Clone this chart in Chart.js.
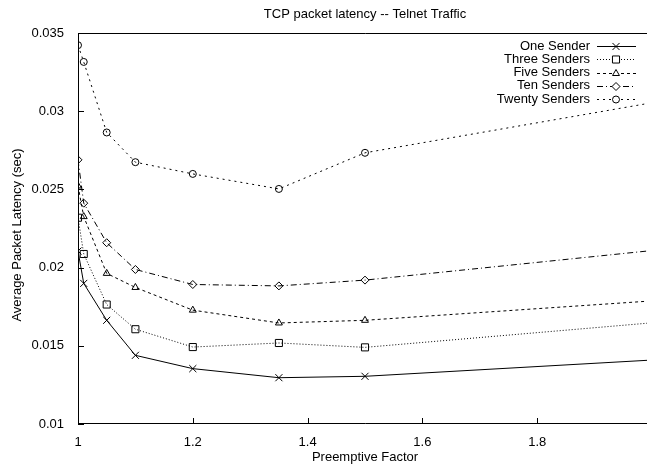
<!DOCTYPE html>
<html>
<head>
<meta charset="utf-8">
<title>TCP packet latency -- Telnet Traffic</title>
<script src="https://cdn.jsdelivr.net/npm/chart.js@4.4.1/dist/chart.umd.min.js"></script>
<style>
  html, body { margin: 0; padding: 0; overflow: hidden; background: #fff; }
  #wrap { width: 660px; height: 466px; }
</style>
</head>
<body>
<div id="wrap"><canvas id="graficoLatencia" width="660" height="466"></canvas></div>
<script>
// values
var preemptiveFactor = [1, 1.01, 1.05, 1.1, 1.2, 1.35, 1.5, 2.0];
var oneSender     = [0.02106, 0.01899, 0.01663, 0.01439, 0.01354, 0.01296, 0.01305, 0.01409];
var threeSenders  = [0.02319, 0.02087, 0.01764, 0.01606, 0.01492, 0.01518, 0.01490, 0.01647];
var fiveSenders   = [0.02522, 0.02326, 0.01963, 0.01873, 0.01728, 0.01646, 0.01663, 0.01787];
var tenSenders    = [0.02689, 0.02412, 0.02159, 0.01988, 0.01892, 0.01883, 0.01920, 0.02109];
var twentySenders = [0.03422, 0.03315, 0.02864, 0.02674, 0.02599, 0.02503, 0.02734, 0.03054];

var seriesLabels = ['One Sender', 'Three Senders', 'Five Senders', 'Ten Senders', 'Twenty Senders'];
var chartTitle = 'TCP packet latency -- Telnet Traffic';
var xTitle = 'Preemptive Factor';
var yTitle = 'Average Packet Latency (sec)';

var FONT = '"Liberation Sans", Arial, Helvetica, sans-serif';

function puntos(valores) {
    return preemptiveFactor.map(function (x, i) { return { x: x, y: valores[i] }; });
}

function serie(label, valores, dash, estilo, radio) {
    return {
        label: label,
        data: puntos(valores),
        borderColor: '#000',
        borderWidth: 1,
        borderDash: dash,
        pointStyle: estilo,
        pointRadius: radio,
        pointBorderColor: '#000',
        pointBorderWidth: 1,
        pointBackgroundColor: 'rgba(0,0,0,0)',
        tension: 0,
        fill: false
    };
}

// frame, inward ticks, titles and legend, gnuplot style
var gnuplotLook = {
    id: 'gnuplotLook',
    afterDraw: function (chart) {
        var ctx = chart.ctx;
        var a = chart.chartArea;
        var xs = chart.scales.x, ys = chart.scales.y;
        ctx.save();
        ctx.strokeStyle = '#000';
        ctx.lineWidth = 1;
        ctx.setLineDash([]);
        ctx.beginPath();
        ctx.moveTo(a.right, a.top + 0.5);
        ctx.lineTo(a.left + 0.5, a.top + 0.5);
        ctx.lineTo(a.left + 0.5, a.bottom - 0.5);
        ctx.lineTo(a.right, a.bottom - 0.5);
        ctx.stroke();

        ctx.beginPath();
        ys.ticks.forEach(function (t) {
            var py = Math.round(ys.getPixelForValue(t.value)) + 0.5;
            ctx.moveTo(a.left, py);
            ctx.lineTo(a.left + 6, py);
        });
        xs.ticks.forEach(function (t) {
            var px = Math.round(xs.getPixelForValue(t.value)) + 0.5;
            ctx.moveTo(px, a.bottom);
            ctx.lineTo(px, a.bottom - 6);
        });
        ctx.stroke();

        ctx.fillStyle = '#000';
        ctx.font = '13px ' + FONT;
        ctx.textAlign = 'center';
        ctx.textBaseline = 'middle';
        ctx.fillText(chartTitle, (a.left + a.right) / 2, 14);

        ctx.save();
        ctx.translate(17, 235);
        ctx.rotate(-Math.PI / 2);
        ctx.fillText(yTitle, 0, 0);
        ctx.restore();

        // legend: text on the left, sample on the right
        ctx.textAlign = 'right';
        chart.data.datasets.forEach(function (ds, i) {
            var y = 46 + i * 13.3;
            ctx.fillStyle = '#000';
            ctx.fillText(ds.label, 590, y);
            ctx.beginPath();
            ctx.setLineDash(ds.borderDash || []);
            ctx.moveTo(597, Math.round(y) + 0.5);
            ctx.lineTo(636, Math.round(y) + 0.5);
            ctx.stroke();
            ctx.setLineDash([]);
            ctx.fillStyle = '#fff';
            Chart.helpers.drawPoint(ctx, {
                pointStyle: ds.pointStyle,
                radius: ds.pointRadius,
                rotation: 0,
                borderWidth: 1
            }, 616, Math.round(y) + 0.5);
        });
        ctx.restore();
    }
};

var ctxLat = document.getElementById('graficoLatencia').getContext('2d');
var graficoLatencia = new Chart(ctxLat, {
    type: 'line',
    data: {
        datasets: [
            serie(seriesLabels[0], oneSender, [], 'crossRot', 5),
            serie(seriesLabels[1], threeSenders, [1, 2], 'rect', 5),
            serie(seriesLabels[2], fiveSenders, [3, 3], 'triangle', 4),
            serie(seriesLabels[3], tenSenders, [6, 3, 1, 3], 'rectRot', 4),
            serie(seriesLabels[4], twentySenders, [2, 4], 'circle', 3.5)
        ]
    },
    plugins: [gnuplotLook],
    options: {
        responsive: false,
        animation: false,
        layout: { padding: { top: 33, right: 8, left: 0, bottom: 0 } },
        plugins: {
            legend: { display: false },
            title: { display: false },
            tooltip: { enabled: false }
        },
        scales: {
            x: {
                type: 'linear',
                min: 1,
                max: 2,
                grid: { display: false },
                border: { display: false },
                ticks: {
                    stepSize: 0.2,
                    padding: 3,
                    color: '#000',
                    font: { family: FONT, size: 13 },
                    maxRotation: 0,
                    callback: function (v) { return v >= 1.99 ? '' : String(Number(v.toFixed(1))); }
                },
                title: {
                    display: true,
                    text: xTitle,
                    color: '#000',
                    font: { family: FONT, size: 13 },
                    padding: { top: 0, bottom: 1 }
                },
                afterFit: function (s) { s.height = 42; }
            },
            y: {
                min: 0.01,
                max: 0.035,
                grid: { display: false },
                border: { display: false },
                ticks: {
                    stepSize: 0.005,
                    padding: 6,
                    color: '#000',
                    font: { family: FONT, size: 13 },
                    callback: function (v) { return String(Number(v.toFixed(3))); }
                },
                title: { display: false },
                afterFit: function (s) { s.width = 78; }
            }
        }
    }
});
</script>
</body>
</html>
